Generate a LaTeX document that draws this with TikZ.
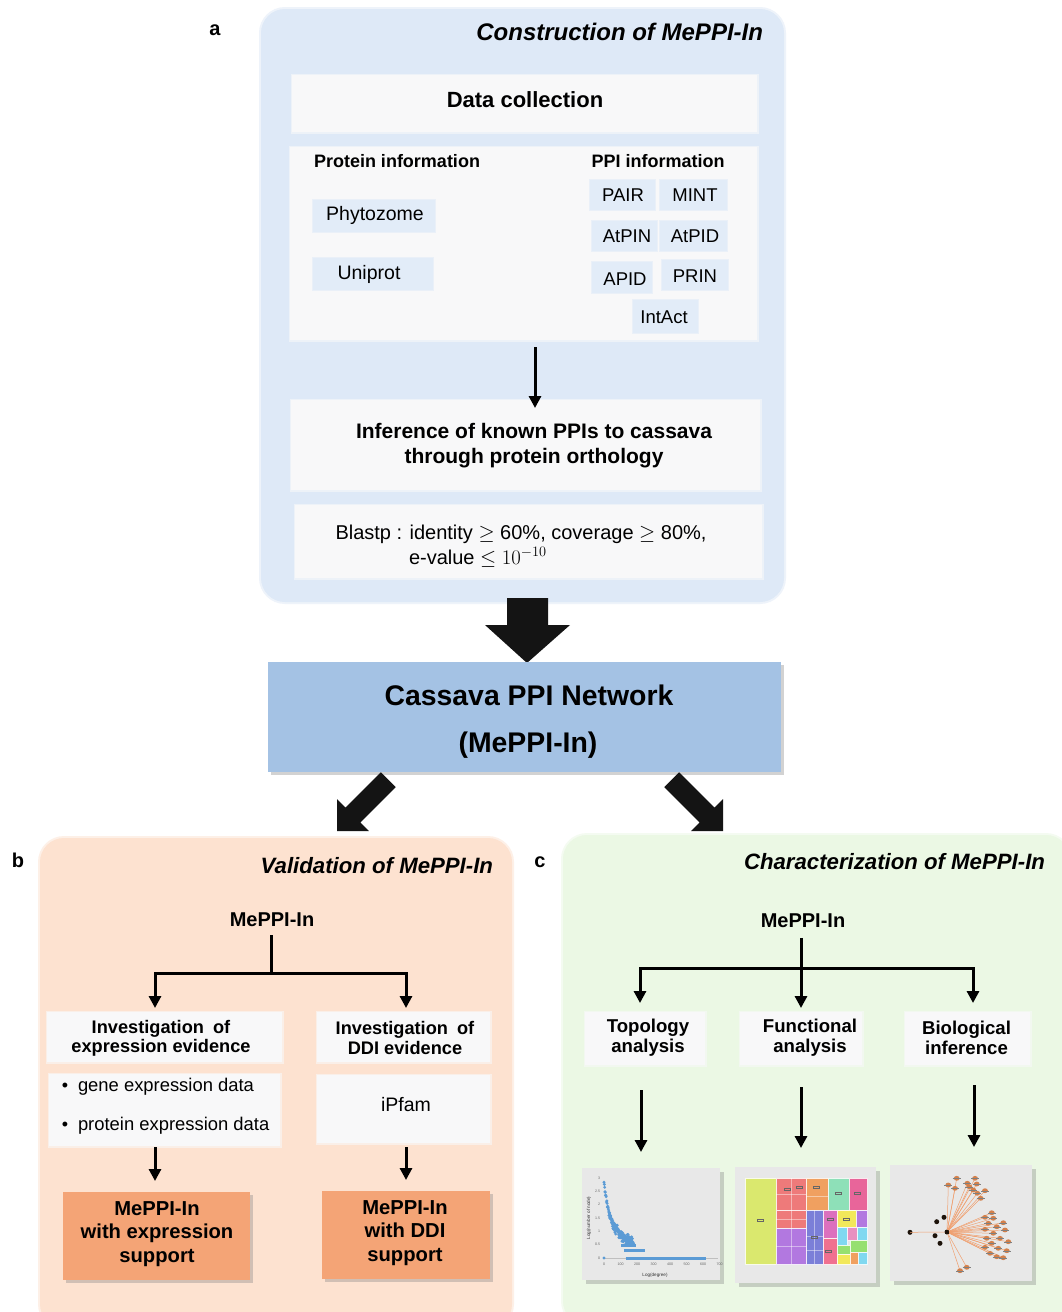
\documentclass[tikz,border=0pt]{standalone}
\usepackage{fontspec}
\setmainfont{Liberation Sans}
\usetikzlibrary{arrows.meta,shadows,calc}

\definecolor{paneA}{RGB}{222,233,247}
\definecolor{paneB}{RGB}{253,226,208}
\definecolor{paneC}{RGB}{235,248,228}
\definecolor{card}{RGB}{248,248,249}
\definecolor{chip}{RGB}{226,236,248}
\definecolor{netblue}{RGB}{164,194,228}
\definecolor{peach}{RGB}{244,164,118}
\definecolor{thumbgray}{RGB}{232,232,232}
\definecolor{dotblue}{RGB}{91,155,213}
\definecolor{edgeorange}{RGB}{240,160,112}
\definecolor{nodeorange}{RGB}{212,128,74}
\definecolor{tmYel}{RGB}{218,232,110}
\definecolor{tmRed}{RGB}{238,122,122}
\definecolor{tmOra}{RGB}{240,160,96}
\definecolor{tmTeal}{RGB}{142,224,184}
\definecolor{tmPink}{RGB}{232,101,154}
\definecolor{tmSlate}{RGB}{123,127,216}
\definecolor{tmMag}{RGB}{220,112,190}
\definecolor{tmYel2}{RGB}{242,232,90}
\definecolor{tmPur}{RGB}{178,120,224}
\definecolor{tmCyan}{RGB}{128,216,240}
\definecolor{tmLpink}{RGB}{232,144,192}
\definecolor{tmGreen}{RGB}{150,224,112}
\definecolor{tmSalmon}{RGB}{240,112,144}

\tikzset{
  every node/.style={inner sep=0pt, outer sep=0pt},
  pane/.style={fill=#1, draw=#1, draw opacity=0.5, line width=4pt, rounded corners=24pt},
  cardbox/.style={fill=card, draw=card, draw opacity=0.6, line width=3pt},
  chipbox/.style={fill=chip, draw=chip, draw opacity=0.6, line width=2pt},
  thumb/.style={fill=thumbgray, drop shadow={shadow xshift=4pt, shadow yshift=-4pt, opacity=0.35}},
  resultbox/.style={fill=peach, drop shadow={shadow xshift=3pt, shadow yshift=-3pt, opacity=0.35}},
  panellabel/.style={font=\fontsize{20}{24}\selectfont\bfseries},
  title/.style={font=\fontsize{#1}{24}\selectfont\bfseries\itshape, anchor=east},
  head/.style={font=\fontsize{#1}{#1}\selectfont\bfseries, align=center},
  plain/.style={font=\fontsize{#1}{#1}\selectfont},
  tree/.style={line width=3pt, line cap=rect},
  arr/.style={line width=3pt, -{Triangle[length=12pt,width=12pt]}},
  tiny/.style={font=\fontsize{3.6}{4}\selectfont, text=black!60},
}

\begin{document}
\begin{tikzpicture}[x=1pt, y=-1pt]
\useasboundingbox (0,0) rectangle (1062,1312);
\fill[white] (0,0) rectangle (1062,1312);

% ---------------- panel a: construction ----------------
\node[pane=paneA, minimum width=523pt, minimum height=593pt] (panA) at (522.5,305.5) {};
\node[panellabel] (la) at (215,30) {a};
\node[title=24] (tA) at (763,32) {Construction of MePPI-In};

\node[cardbox, minimum width=465pt, minimum height=57pt] (datacol) at (524.5,103.5) {};
\node[head=22] at (525,100) {Data collection};

\node[cardbox, minimum width=467pt, minimum height=193pt] (info) at (523.5,243.5) {};
\node[head=18] (protH) at (397,161) {Protein information};
\node[head=18] (ppiH) at (658,161) {PPI information};

\node[chipbox, minimum width=122pt, minimum height=32pt] (phyto) at (374,216) {};
\node[plain=19.5] at (375,215) {Phytozome};
\node[chipbox, minimum width=120pt, minimum height=32pt] (unip) at (373,274) {};
\node[plain=19.5] at (369,274) {Uniprot};

\node[chipbox, minimum width=65pt, minimum height=30pt] (pair) at (622.5,195) {};
\node[plain=18.5] at (623,195) {PAIR};
\node[chipbox, minimum width=67pt, minimum height=30pt] (mint) at (693.5,195) {};
\node[plain=18.5] at (695,195) {MINT};
\node[chipbox, minimum width=65pt, minimum height=30pt] (atpin) at (624.5,236) {};
\node[plain=18.5] at (627,236) {AtPIN};
\node[chipbox, minimum width=67pt, minimum height=30pt] (atpid) at (693.5,236) {};
\node[plain=18.5] at (695,236) {AtPID};
\node[chipbox, minimum width=60pt, minimum height=31pt] (apid) at (622,277.5) {};
\node[plain=18.5] at (625,279) {APID};
\node[chipbox, minimum width=66pt, minimum height=30pt] (prin) at (695,275) {};
\node[plain=18.5] at (695,276) {PRIN};
\node[chipbox, minimum width=65pt, minimum height=33pt] (intact) at (665.5,316.5) {};
\node[plain=18.5] at (664,317) {IntAct};

\node[cardbox, minimum width=469pt, minimum height=90pt] (infer) at (525.5,445) {};
\node[align=center, font=\fontsize{21}{25}\selectfont\bfseries] (inferT) at (534,446)
  {Inference of known PPIs to cassava\\through protein orthology};

\node[cardbox, minimum width=467pt, minimum height=73pt] (blast) at (528.5,541.5) {};
\node[plain=20] (blast1) at (521,534) {Blastp : identity $\geq$ 60\%, coverage $\geq$ 80\%,};
\node[plain=20, anchor=west] (blast2) at (409,557) {e-value $\leq$ $10^{-10}$};

\draw[arr] ([xshift=11.5pt,yshift=-7pt]info.south) -- ([xshift=9.5pt,yshift=-8pt]infer.north);

% ---------------- panel b: validation ----------------
\node[pane=paneB, minimum width=472pt, minimum height=490pt] (panB) at (276,1083) {};
\node[panellabel] (lb) at (18,860) {b};
\node[title=22.2] (tB) at (493,866) {Validation of MePPI-In};

\node[head=20] (bMe) at (272,920) {MePPI-In};

\node[cardbox, minimum width=235pt, minimum height=50pt] (bexp) at (164.5,1037) {};
\node[align=center, font=\fontsize{18.2}{19.5}\selectfont\bfseries] at (161,1038.5) {Investigation\enspace of\\expression evidence};
\node[cardbox, minimum width=173pt, minimum height=50pt] (bddi) at (403.5,1037) {};
\node[align=center, font=\fontsize{18.2}{19.5}\selectfont\bfseries] at (405,1038) {Investigation\enspace of\\DDI evidence};

\node[cardbox, minimum width=231pt, minimum height=72pt] (bdata) at (164.5,1110) {};
\node[plain=18] at (65,1087) {\textbullet};
\node[plain=18.4, anchor=west] at (78,1087) {gene expression data};
\node[plain=18] at (65,1126) {\textbullet};
\node[plain=18.4, anchor=west] at (78,1126) {protein expression data};
\node[cardbox, minimum width=173pt, minimum height=68pt] (bpfam) at (403.5,1109) {};
\node[plain=19.5] at (406,1105) {iPfam};

\node[resultbox, minimum width=187pt, minimum height=88pt] (rexp) at (156.5,1236) {};
\node[align=center, font=\fontsize{20.2}{23.5}\selectfont\bfseries] at (157,1234) {MePPI-In\\with expression\\support};
\node[resultbox, minimum width=168pt, minimum height=88pt] (rddi) at (406,1235) {};
\node[align=center, font=\fontsize{20.2}{23.5}\selectfont\bfseries] at (405,1233) {MePPI-In\\with DDI\\support};

\coordinate (bj) at (271,973);
\coordinate (bjl) at (155,973);
\coordinate (bjr) at (406,973);
\draw[tree] ([xshift=-1pt,yshift=-10pt]bMe.south) -- (bj);
\draw[tree] (bjl) -- (bjr);
\draw[arr] (bjl) -- ([xshift=-9.5pt,yshift=4pt]bexp.north);
\draw[arr] (bjr) -- ([xshift=2.5pt,yshift=4pt]bddi.north);
\draw[arr] ([xshift=-9.5pt,yshift=-1pt]bdata.south) -- ([xshift=-1.5pt,yshift=11pt]rexp.north);
\draw[arr] ([xshift=2.5pt,yshift=-4pt]bpfam.south) -- ([yshift=11pt]rddi.north);

% ---------------- panel c: characterization ----------------
\node[pane=paneC, minimum width=507pt, minimum height=490pt] (panC) at (816.5,1080) {};
\node[panellabel] (lc) at (540,862) {c};
\node[title=22.2] (tC) at (1045,862) {Characterization of MePPI-In};

\node[head=20] (cMe) at (803,921) {MePPI-In};

\node[cardbox, minimum width=120pt, minimum height=53pt] (topo) at (645,1038.5) {};
\node[align=center, font=\fontsize{18.6}{20}\selectfont\bfseries] at (648,1038) {Topology\\analysis};
\node[cardbox, minimum width=122pt, minimum height=53pt] (func) at (801,1038.5) {};
\node[align=center, font=\fontsize{18.6}{20}\selectfont\bfseries] at (810,1038) {Functional\\analysis};
\node[cardbox, minimum width=125pt, minimum height=53pt] (bio) at (967.5,1038.5) {};
\node[align=center, font=\fontsize{18.6}{20}\selectfont\bfseries] at (966.5,1037.5) {Biological\\inference};

\coordinate (cjl) at (640,968);
\coordinate (cjr) at (973,968);
\draw[tree] (cjl) -- (cjr);
\draw[arr] ([xshift=-2pt,yshift=-10pt]cMe.south) -- ([yshift=4pt]func.north);
\draw[arr] (cjl) -- ([xshift=-5pt,yshift=9pt]topo.north);
\draw[arr] (cjr) -- ([xshift=5.5pt,yshift=9pt]bio.north);

\node[thumb, minimum width=138pt, minimum height=112pt] (thumb1) at (651,1224) {};
\node[thumb, minimum width=141pt, minimum height=116pt] (thumb2) at (805.5,1225) {};
\node[thumb, minimum width=142pt, minimum height=116pt] (thumb3) at (961,1223) {};

\draw[arr] ([xshift=-4pt,yshift=-25pt]topo.south) -- ([xshift=-10pt,yshift=16pt]thumb1.north);
\draw[arr] ([yshift=-22pt]func.south) -- ([xshift=-4.5pt,yshift=19pt]thumb2.north);
\draw[arr] ([xshift=6.5pt,yshift=-20pt]bio.south) -- ([xshift=13pt,yshift=18pt]thumb3.north);

% degree distribution plot
\draw[black!25, line width=0.3pt] (604,1258) -- (718,1258);
\foreach \t [count=\i from 0] in {0,100,200,300,400,500,600,700}
  \node[tiny] at ({604+16.5*\i},1264) {\t};
\foreach \t [count=\i from 0] in {0,0.5,1,1.5,2,2.5,3}
  \node[tiny, anchor=east] at (600,{1258-13.35*\i}) {\t};
\node[font=\fontsize{4.6}{5}\selectfont, rotate=90, text=black!80] at (589,1218) {Log(number of node)};
\node[font=\fontsize{4.6}{5}\selectfont, text=black!80] at (655,1275) {Log(degree)};
\pgfmathsetseed{7}
\foreach \k in {0,...,95}{
  \pgfmathsetmacro\dg{\k*1.9}
  \pgfmathsetmacro\vv{2.85/(1+\dg/45)+0.10*rand}
  \fill[dotblue] ({604+0.165*\dg},{1258-26.7*\vv}) circle (1.6);
}
\foreach \k in {0,...,60}{
  \pgfmathsetmacro\dg{30+\k*2.4}
  \pgfmathsetmacro\vv{2.85/(1+\dg/45)+0.22*rand}
  \fill[dotblue] ({604+0.165*\dg},{1258-26.7*\vv}) circle (1.6);
}
\fill[dotblue] (604,1258) circle (1.7);
\draw[dotblue, line width=3pt] (625.5,1258) -- (706,1258);
\draw[dotblue, line width=3pt] (624,1250) -- (645,1250);
\draw[dotblue, line width=3pt] (621,1245.3) -- (636,1245.3);

% treemap
\foreach \xa/\ya/\xb/\yb/\c in {
  745/1178/776/1264/tmYel,
  776/1178/806/1210/tmRed,
  806/1178/828/1210/tmOra,
  828/1178/849/1210/tmTeal,
  849/1178/867/1210/tmPink,
  776/1210/806/1228/tmRed,
  806/1210/823/1264/tmSlate,
  823/1210/837/1238/tmMag,
  837/1210/856/1227/tmYel2,
  856/1210/867/1227/tmPur,
  776/1228/806/1264/tmPur,
  823/1238/837/1264/tmSalmon,
  837/1227/847/1245/tmCyan,
  847/1227/857/1240/tmLpink,
  857/1227/867/1240/tmCyan,
  837/1245/850/1254/tmGreen,
  837/1254/850/1264/tmYel2,
  850/1240/867/1252/tmGreen,
  850/1252/858/1264/tmOra,
  858/1252/867/1264/tmCyan}
  \fill[\c, draw=white!85!\c, line width=0.3pt] (\xa,\ya) rectangle (\xb,\yb);
\foreach \xa/\ya/\xb/\yb in {776/1194/806/1194, 791/1178/791/1228, 806/1196/828/1196,
  814/1210/814/1264, 806/1236/823/1236, 791/1228/791/1264, 776/1246/806/1246,
  806/1250/823/1250, 776/1219/806/1219}
  \draw[white, opacity=0.45, line width=0.3pt] (\xa,\ya) -- (\xb,\yb);
\foreach \x/\y in {760/1219, 787/1188, 799/1186, 816/1186, 838/1192, 857/1192, 830/1218, 846/1218, 814/1236, 828/1250}
  \draw[black!60, line width=0.25pt] (\x-3,\y) rectangle (\x+3,\y+2.5);

% interaction network
\node[circle, fill=black!85!brown, minimum size=5pt] (hub) at (947,1232) {};
\foreach \p in {(948.3,1185),(956.7,1178.3),(955,1188.3),(967.3,1183.3),(975,1178.3),
  (976.7,1184),(969.3,1186.7),(973.3,1190),(985,1190.7),(977.3,1193.3),(980.7,1198.3),
  (991.7,1212.7),(985,1217.3),(993.3,1218.3),(1003.3,1222.7),(988.3,1223.3),(996.7,1226.7),
  (985,1229.3),(1005,1230),(993.3,1233.3),(986.7,1238.3),(1000,1238.3),(1008.3,1241.7),
  (991.7,1243.3),(985,1247.3),(998.3,1248.3),(1006.7,1250.7),(990,1253.3),(996.7,1256.7),
  (1003.3,1257.7),(960,1270.7),(966.7,1267.3)}
  \draw[edgeorange, line width=0.5pt] (hub) -- \p;
\foreach \p in {(948.3,1185),(956.7,1178.3),(955,1188.3),(967.3,1183.3),(975,1178.3),
  (976.7,1184),(969.3,1186.7),(973.3,1190),(985,1190.7),(977.3,1193.3),(980.7,1198.3),
  (991.7,1212.7),(985,1217.3),(993.3,1218.3),(1003.3,1222.7),(988.3,1223.3),(996.7,1226.7),
  (985,1229.3),(1005,1230),(993.3,1233.3),(986.7,1238.3),(1000,1238.3),(1008.3,1241.7),
  (991.7,1243.3),(985,1247.3),(998.3,1248.3),(1006.7,1250.7),(990,1253.3),(996.7,1256.7),
  (1003.3,1257.7),(960,1270.7),(966.7,1267.3)}{
  \fill[nodeorange] \p ellipse (2.9 and 2.4);
  \draw[black!50, line width=0.3pt] \p ++(-4,0) -- ++(8,0);
}
\foreach \p in {(910,1232.3),(936.7,1221.7),(944,1217.3),(935,1235.7),(940,1243.3)}
  \fill[black!85!brown] \p circle (2.5);
\draw[edgeorange, line width=0.5pt] (910,1232.3) -- (hub);

% ---------------- central network box and block arrows ----------------
\fill[black!92] (507,598) -- (548,598) -- (548,625) -- (570,625) -- (527,663)
  -- (485,625) -- (507,625) -- cycle;
\node[fill=netblue, minimum width=513pt, minimum height=110pt,
  drop shadow={shadow xshift=3pt, shadow yshift=-3pt, opacity=0.35}] (cassava) at (524.5,717) {};
\node[font=\fontsize{28.4}{30}\selectfont\bfseries] (casT1) at (529,695) {Cassava PPI Network};
\node[font=\fontsize{28.4}{30}\selectfont\bfseries] (casT2) at (528,745) {(MePPI-In)};

\fill[black!92] (380.9,772.3) -- (395.7,787.1) -- (360.3,822.5) -- (368.8,831)
  -- (337,831) -- (337,799.2) -- (345.5,807.7) -- cycle;
\fill[black!92] (679.1,772.3) -- (664.3,787.1) -- (699.7,822.5) -- (691.2,831)
  -- (723,831) -- (723,799.2) -- (714.5,807.7) -- cycle;
\end{tikzpicture}
\end{document}
